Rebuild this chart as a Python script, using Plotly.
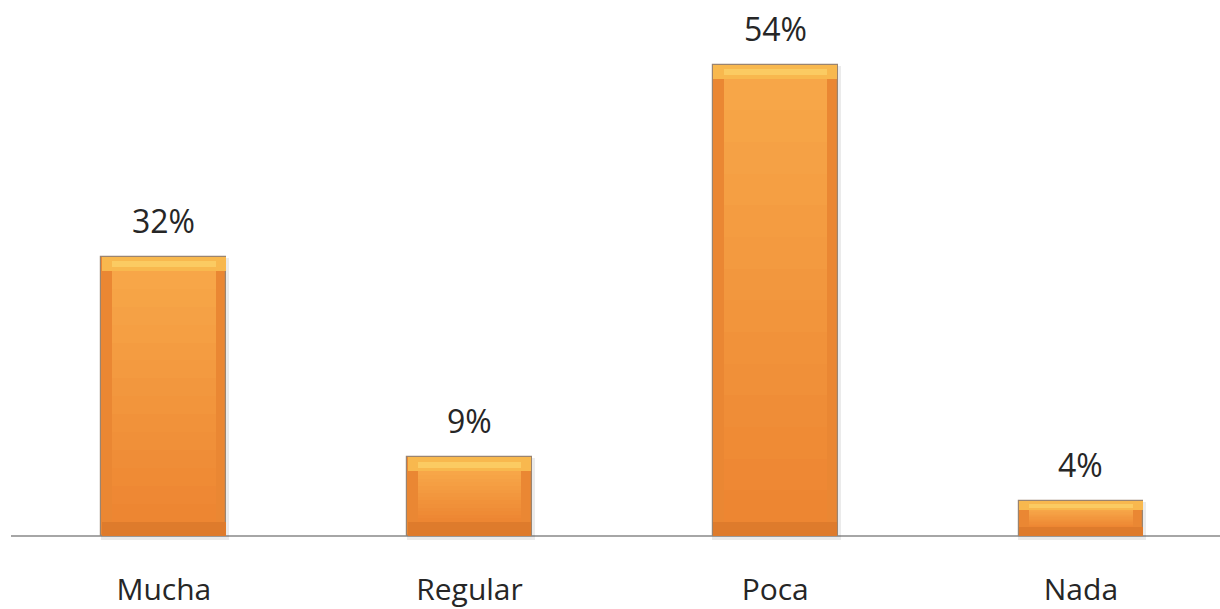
import plotly.graph_objects as go

categories = ["Mucha", "Regular", "Poca", "Nada"]
values = [32, 9, 54, 4]
labels = ["32%", "9%", "54%", "4%"]

xs = list(range(len(categories)))
BW = 0.408          # bar width (category units)
SIDE = 0.035        # side bevel width
BEV = 1.6           # top/bottom bevel thickness (data units)

fig = go.Figure()

def bev(v):
    return min(BEV, v / 4.0)

# soft shadow
fig.add_trace(go.Bar(x=xs, y=[v + 0.4 for v in values], base=[-0.5] * 4, width=BW + 0.012,
                     offset=-(BW / 2) - 0.002,
                     marker=dict(color="rgba(60,60,60,0.10)", line=dict(width=0)),
                     hoverinfo="skip", showlegend=False))

# base bar with border (side bevels color)
fig.add_trace(go.Bar(x=xs, y=values, width=BW,
                     marker=dict(color="#EA8733", line=dict(color="#9A8470", width=1.2)),
                     hoverinfo="skip", showlegend=False))

# face gradient (lighter top, darker bottom) via stepped overlays
N = 14
top_c = (247, 166, 72)
bot_c = (237, 134, 50)
for i in range(N):
    t = i / (N - 1)
    c = tuple(int(round(top_c[k] + (bot_c[k] - top_c[k]) * t)) for k in range(3))
    frac = 1 - i / N
    ys = [(v - 2 * bev(v)) * frac for v in values]
    fig.add_trace(go.Bar(x=xs, y=ys, base=[bev(v) for v in values], width=BW - 2 * SIDE,
                         marker=dict(color="rgb(%d,%d,%d)" % c, line=dict(width=0)),
                         hoverinfo="skip", showlegend=False))

# top bevel (light yellow-orange)
fig.add_trace(go.Bar(x=xs, y=[bev(v) for v in values], base=[v - bev(v) for v in values], width=BW - 0.004,
                     marker=dict(color="#F8B84E", line=dict(width=0)),
                     hoverinfo="skip", showlegend=False))
fig.add_trace(go.Bar(x=xs, y=[bev(v) * 0.45 for v in values], base=[v - bev(v) * 0.75 for v in values],
                     width=BW - 2 * SIDE,
                     marker=dict(color="#FBCB62", line=dict(width=0)),
                     hoverinfo="skip", showlegend=False))
# bottom bevel (darker)
fig.add_trace(go.Bar(x=xs, y=[bev(v) for v in values], base=[0] * 4, width=BW - 0.004,
                     marker=dict(color="#DE7B2C", line=dict(width=0)),
                     hoverinfo="skip", showlegend=False))

for x, v, lab in zip(xs, values, labels):
    fig.add_annotation(x=x, y=v, text=lab, showarrow=False, yanchor="bottom", yshift=13,
                       font=dict(family="Open Sans", size=32, color="#262626"))

fig.update_layout(
    width=1220, height=609,
    barmode="overlay",
    bargap=0,
    paper_bgcolor="white", plot_bgcolor="white",
    margin=dict(l=11, r=0, t=1, b=66, autoexpand=False),
    showlegend=False,
    xaxis=dict(range=[-0.5, 3.455], tickmode="array", tickvals=xs, ticktext=categories,
               showgrid=False, showline=False, zeroline=False, ticks="", automargin=False,
               tickfont=dict(family="Open Sans", size=30, color="#262626"),
               ticklabelstandoff=26, fixedrange=True),
    yaxis=dict(range=[-0.8, 61.3], visible=True, showticklabels=False, showgrid=False,
               zeroline=True, zerolinecolor="#A6A6A6", zerolinewidth=2, showline=False,
               ticks="", fixedrange=True, automargin=False),
)

fig.write_html("out.html", config={"displayModeBar": False},
               post_script="document.body.style.margin='0';document.body.style.overflow='hidden';")
